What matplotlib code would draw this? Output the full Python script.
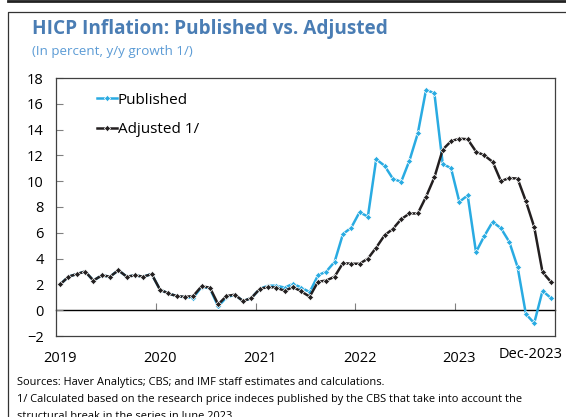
import numpy as np
import matplotlib.pyplot as plt
from matplotlib.lines import Line2D
from matplotlib.transforms import ScaledTranslation

plt.rcParams['font.family'] = ['Open Sans', 'DejaVu Sans']

# monthly, Jan 2019 - Dec 2023
published = [2.0, 2.6, 2.8, 3.0, 2.3, 2.7, 2.6, 3.1, 2.6, 2.7, 2.6, 2.8,
             1.6, 1.3, 1.1, 1.0, 0.97, 1.8, 1.7, 0.3, 1.0, 1.2, 0.7, 0.95,
             1.65, 1.9, 1.9, 1.75, 2.05, 1.75, 1.4, 2.7, 3.0, 3.75, 5.9, 6.4,
             7.6, 7.25, 11.7, 11.2, 10.2, 9.95, 11.6, 13.7, 17.1, 16.8, 11.35, 11.0,
             8.4, 8.9, 4.5, 5.75, 6.85, 6.35, 5.3, 3.35, -0.3, -1.0, 1.5, 0.95]
adjusted = [2.0, 2.6, 2.8, 3.0, 2.3, 2.7, 2.6, 3.1, 2.6, 2.7, 2.6, 2.8,
            1.6, 1.3, 1.1, 1.03, 1.1, 1.85, 1.75, 0.45, 1.1, 1.2, 0.7, 0.95,
            1.65, 1.8, 1.75, 1.5, 1.8, 1.45, 1.05, 2.2, 2.3, 2.6, 3.65, 3.6,
            3.6, 4.0, 4.85, 5.8, 6.3, 7.05, 7.5, 7.5, 8.8, 10.3, 12.45, 13.1,
            13.3, 13.25, 12.3, 12.0, 11.5, 10.0, 10.25, 10.2, 8.45, 6.45, 2.95, 2.2]
x_labels = ['2019', '2020', '2021', '2022', '2023', 'Dec-2023']
label_months = [0, 12, 24, 36, 48, 59]
year_breaks = [12, 24, 36, 48]

title = 'HICP Inflation: Published vs. Adjusted'
subtitle = '(In percent, y/y growth 1/)'
notes = ['Sources: Haver Analytics; CBS; and IMF staff estimates and calculations.',
         '1/ Calculated based on the research price indeces published by the CBS that take into account the',
         'structural break in the series in June 2023.']

W, H = 566, 417
fig = plt.figure(figsize=(W / 100, H / 100), dpi=100)
ax = fig.add_axes([56 / W, 1 - 336 / H, 499 / W, 258 / H])

x = np.arange(len(published)) + 0.5
ax.plot(x, published, color='#29abe2', lw=1.8, marker='D', ms=3.2,
        mec='white', mew=0.5, label='Published')
ax.plot(x, adjusted, color='#231f20', lw=1.8, marker='D', ms=3.2,
        mec='white', mew=0.5, label='Adjusted 1/')

ymin, ymax = -2, 18
ax.set_ylim(ymin, ymax)
ax.set_xlim(0, len(published))
ax.set_yticks(np.arange(-2, 19, 2))
ax.tick_params(axis='y', direction='in', length=5, color='#808080',
               labelsize=10.5, pad=9)
ax.set_xticks(x[label_months])
ax.set_xticklabels(x_labels, fontsize=10.5)
ax.tick_params(axis='x', length=0, pad=11)
last = ax.get_xticklabels()[-1]
last.set_transform(last.get_transform() + ScaledTranslation(-20 / 100, 4 / 100, fig.dpi_scale_trans))

for s in ax.spines.values():
    s.set_color('#404040')
    s.set_linewidth(0.9)

# zero line carrying the year tick marks
sec = ax.secondary_xaxis((0 - ymin) / (ymax - ymin))
sec.set_xticks(year_breaks)
sec.tick_params(direction='in', length=5, color='#808080', labelbottom=False)
sec.spines['bottom'].set_color('black')
sec.spines['bottom'].set_linewidth(1.0)

ax.legend(loc='upper left', bbox_to_anchor=(0.082, 0.943), frameon=False,
          fontsize=11, handlelength=1.3, handletextpad=0.05, labelspacing=0.95,
          borderpad=0, borderaxespad=0)

fig.text(32 / W, 1 - 29 / H, title, fontsize=13.7, fontweight='bold',
         color='#4a7db4', va='center')
fig.text(32 / W, 1 - 51 / H, subtitle, fontsize=9.6, color='#5b9bd5', va='center')
for i, t in enumerate(notes):
    fig.text(17 / W, 1 - (383 + 16.5 * i) / H, t, fontsize=7.95, va='center')

# panel borders
fig.add_artist(Line2D([8 / W, 1], [1 - 1 / H, 1 - 1 / H], color='#222222', lw=2))
fig.add_artist(Line2D([8 / W, 8 / W, 1], [0, 1 - 12 / H, 1 - 12 / H],
                      color='#333333', lw=0.9))

fig.savefig('out.png', dpi=100)
